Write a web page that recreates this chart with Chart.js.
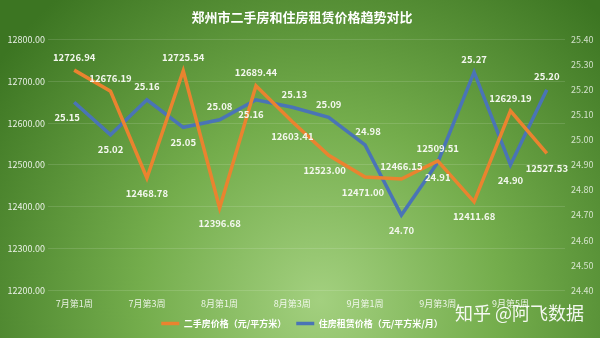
<!DOCTYPE html>
<html>
<head>
<meta charset="utf-8">
<script src="https://cdn.jsdelivr.net/npm/chart.js@4/dist/chart.umd.min.js"></script>
<style>
    html, body { margin: 0; padding: 0; background: #4a8a2c; overflow: hidden; }
</style>
</head>
<body>
<canvas id="trend_canvas" width="600" height="338"></canvas>
<script>
// 周次
const weeks = [
    '7月第1周', '7月第2周', '7月第3周', '7月第4周',
    '8月第1周', '8月第2周', '8月第3周', '8月第4周',
    '9月第1周', '9月第2周', '9月第3周', '9月第4周',
    '9月第5周', '10月第1周'
];
// 二手房价格（元/平方米）
const housePrice = [
    12726.94, 12676.19, 12468.78, 12725.54, 12396.68, 12689.44, 12603.41,
    12523.00, 12471.00, 12466.15, 12509.51, 12411.68, 12629.19, 12527.53
];
// 住房租赁价格（元/平方米/月）
const rentPrice = [
    25.15, 25.02, 25.16, 25.05, 25.08, 25.16, 25.13,
    25.09, 24.98, 24.70, 24.91, 25.27, 24.90, 25.20
];
const houseName = '二手房价格（元/平方米）';
const rentName = '住房租赁价格（元/平方米/月）';

// 标签位置 t=上 b=下
const houseLabelPos = ['t','t','b','t','b','t','b','b','b','t','t','b','t','b'];
const rentLabelPos  = ['b','b','t','b','t','b','t','t','t','b','b','t','b','t'];
const houseLabelDx = [0,0,0,0,0,0,0,-4,-2,0,0,0,0,0];
const rentLabelDx  = [-7,0,0,0,0,-5,2,0,3,0,0,0,0,0];

const FONT = '"Noto Sans CJK SC", "Noto Sans", sans-serif';

const bgPlugin = {
    id: 'bg',
    beforeDraw(chart) {
        const ctx = chart.ctx;
        const w = chart.width, h = chart.height;
        ctx.save();
        const g = ctx.createRadialGradient(320, 300, 0, 320, 300, 400);
        g.addColorStop(0, '#a3d07f');
        g.addColorStop(0.45, '#74ad4c');
        g.addColorStop(1, '#3c7522');
        ctx.fillStyle = g;
        ctx.fillRect(0, 0, w, h);
        ctx.restore();
    }
};

const labelPlugin = {
    id: 'valueLabels',
    afterDatasetsDraw(chart) {
        const ctx = chart.ctx;
        ctx.save();
        ctx.font = 'bold 9.5px ' + FONT;
        ctx.fillStyle = '#f4f7ef';
        ctx.textAlign = 'center';
        ctx.textBaseline = 'middle';
        chart.data.datasets.forEach(function(ds, i) {
            const meta = chart.getDatasetMeta(i);
            const pos = i === 0 ? houseLabelPos : rentLabelPos;
            const dx = i === 0 ? houseLabelDx : rentLabelDx;
            meta.data.forEach(function(pt, j) {
                const v = ds.data[j];
                const off = pos[j] === 't' ? -13 : 15;
                ctx.fillText(v.toFixed(2), pt.x + dx[j], pt.y + off);
            });
        });
        ctx.restore();
    },
    afterDraw(chart) {
        const ctx = chart.ctx;
        ctx.save();
        ctx.font = '18px ' + FONT;
        ctx.fillStyle = 'rgba(255,255,255,0.92)';
        ctx.textAlign = 'left';
        ctx.textBaseline = 'middle';
        ctx.fillText('知乎 @阿飞数据', 455, 313);
        ctx.restore();
    }
};

const trendCtx = document.getElementById('trend_canvas');
const trendChart = new Chart(trendCtx, {
    type: 'line',
    data: {
        labels: weeks,
        datasets: [{
            label: houseName,
            data: housePrice,
            borderColor: '#ea832f',
            backgroundColor: '#ea832f',
            borderWidth: 3.5,
            pointRadius: 0,
            tension: 0,
            yAxisID: 'y'
        }, {
            label: rentName,
            data: rentPrice,
            borderColor: '#4a74b6',
            backgroundColor: '#4a74b6',
            borderWidth: 3.5,
            pointRadius: 0,
            tension: 0,
            yAxisID: 'y1'
        }]
    },
    options: {
        responsive: false,
        animation: false,
        devicePixelRatio: 1,
        layout: {
            padding: { left: 4, right: 0, top: 0, bottom: 0 }
        },
        scales: {
            x: {
                offset: true,
                grid: { display: false },
                border: { display: false },
                ticks: {
                    autoSkip: false,
                    maxRotation: 0,
                    color: 'rgba(255,255,255,0.85)',
                    font: { size: 9, family: FONT },
                    padding: 0,
                    callback: function(value, index) {
                        return index % 2 === 0 ? weeks[index] : '';
                    }
                }
            },
            y: {
                position: 'left',
                min: 12200,
                max: 12800,
                afterFit: function(scale) { scale.width = 52; },
                grid: {
                    color: 'rgba(255,255,255,0.13)',
                    tickLength: 8
                },
                border: { display: false },
                ticks: {
                    stepSize: 100,
                    color: 'rgba(255,255,255,0.88)',
                    font: { size: 9, family: FONT },
                    padding: 3,
                    callback: function(value) {
                        return value.toFixed(2);
                    }
                }
            },
            y1: {
                position: 'right',
                min: 24.4,
                max: 25.4,
                afterFit: function(scale) { scale.width = 35; },
                grid: { display: false, drawTicks: false },
                border: { display: false },
                ticks: {
                    stepSize: 0.1,
                    color: 'rgba(255,255,255,0.75)',
                    font: { size: 9, family: FONT },
                    padding: 6,
                    callback: function(value) {
                        return value.toFixed(2);
                    }
                }
            }
        },
        plugins: {
            title: {
                display: true,
                text: '郑州市二手房和住房租赁价格趋势对比',
                color: '#ffffff',
                font: { size: 13, weight: 'bold', family: FONT },
                padding: { top: 9, bottom: 15 }
            },
            legend: {
                display: true,
                position: 'bottom',
                labels: {
                    usePointStyle: true,
                    pointStyle: 'line',
                    pointStyleWidth: 18,
                    color: '#ffffff',
                    font: { size: 9, weight: 'bold', family: FONT },
                    padding: 10
                }
            },
            tooltip: { enabled: false }
        }
    },
    plugins: [bgPlugin, labelPlugin]
});
</script>
</body>
</html>
